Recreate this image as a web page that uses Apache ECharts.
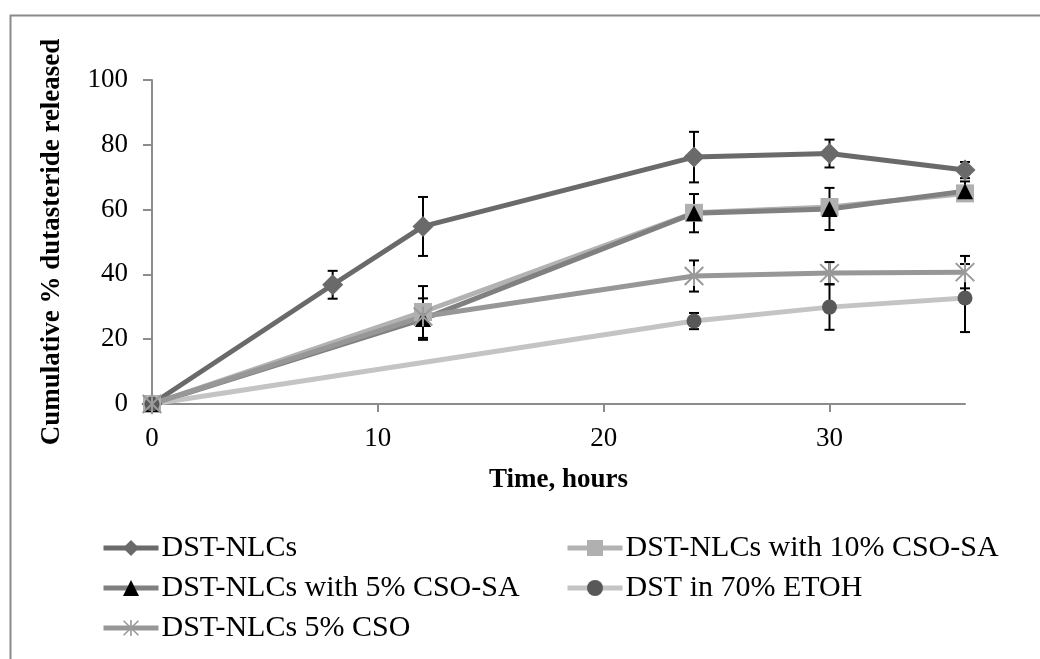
<!DOCTYPE html>
<html>
<head>
<meta charset="utf-8">
<script src="https://cdn.jsdelivr.net/npm/echarts@6/dist/echarts.min.js"></script>
<style>html,body{margin:0;padding:0;background:#fff;}#c{width:1040px;height:659px;}</style>
</head>
<body>
<div id="c"></div>
<script>
// ---- data ----
var seriesNames = ['DST-NLCs', 'DST-NLCs with 10% CSO-SA', 'DST-NLCs with 5% CSO-SA', 'DST in 70% ETOH', 'DST-NLCs 5% CSO'];
var tNLC = [0, 8, 12, 24, 30, 36];
var vNLC = [0, 36.8, 54.8, 76.2, 77.3, 72.2];
var sNLC = [0, 4.3, 9.1, 7.8, 4.3, 2.5];
var t10 = [0, 12, 24, 30, 36];
var v10 = [0, 28.4, 59.0, 60.8, 65.0];
var s10 = [0, 8.0, 0, 0, 0];
var t5 = [0, 12, 24, 30, 36];
var v5 = [0, 26.2, 58.9, 60.2, 65.7];
var s5 = [0, 6.4, 5.9, 6.5, 3.0];
var tEt = [0, 24, 30, 36];
var vEt = [0, 25.6, 29.9, 32.7];
var sEt = [0, 2.5, 7.0, 10.5];
var tCso = [0, 12, 24, 30, 36];
var vCso = [0, 27.0, 39.5, 40.4, 40.7];
var sCso = [0, 0, 4.8, 3.4, 5.0];
var xTicks = [0, 10, 20, 30];

function pairs(t, v) { return t.map(function (x, i) { return [x, v[i]]; }); }
function errs(t, v, s) {
  var out = [];
  t.forEach(function (x, i) { if (s[i] > 0) out.push([x, v[i] - s[i], v[i] + s[i]]); });
  return out;
}
var errData = [].concat(errs(tNLC, vNLC, sNLC), errs(t10, v10, s10), errs(t5, v5, s5), errs(tEt, vEt, sEt), errs(tCso, vCso, sCso));

var asterisk = 'path://M-1,-10L1,-10L1,10L-1,10Z' +
  'M-8.3,-9.7L9.7,8.3L8.3,9.7L-9.7,-8.3Z' +
  'M-9.7,8.3L8.3,-9.7L9.7,-8.3L-8.3,9.7Z';

var font = 'Liberation Serif';
var chart = echarts.init(document.getElementById('c'), null, { renderer: 'canvas' });

function lineSeries(name, data, color, symbol, size, symColor, z) {
  return {
    name: name, type: 'line', data: data, z: z,
    symbol: symbol, symbolSize: size, showAllSymbol: true,
    lineStyle: { color: color, width: 5 },
    itemStyle: { color: symColor, borderWidth: 0 },
    emphasis: { disabled: true },
    animation: false
  };
}

var legendCommon = {
  orient: 'vertical', top: 528, itemWidth: 55, itemHeight: 20, itemGap: 10,
  textStyle: { fontFamily: font, fontSize: 30, color: '#000', padding: [0, 0, 0, -2] },
  lineStyle: { width: 5 },
  selectedMode: false
};

chart.setOption({
  backgroundColor: '#fff',
  animation: false,
  graphic: [{
    type: 'rect', left: 8, top: 13, shape: { x: 0, y: 0, width: 1100, height: 700 },
    style: { fill: 'none', stroke: '#8a8a8a', lineWidth: 2 }, silent: true, z: -10
  }],
  grid: { left: 152, right: 75, top: 80, bottom: 255 },
  xAxis: {
    type: 'value', min: 0, max: 36, interval: 10,
    name: 'Time, hours', nameLocation: 'middle', nameGap: 63,
    nameTextStyle: { fontFamily: font, fontSize: 27, fontWeight: 'bold', color: '#000' },
    axisLine: { show: true, lineStyle: { color: '#8c8c8c', width: 2 } },
    axisTick: { show: true, length: 8, inside: false, lineStyle: { color: '#8c8c8c', width: 2 }, customValues: xTicks },
    axisLabel: { fontFamily: font, fontSize: 27, color: '#000', margin: 21, customValues: xTicks },
    splitLine: { show: false }
  },
  yAxis: {
    type: 'value', min: 0, max: 100, interval: 20,
    name: 'Cumulative % dutasteride released', nameLocation: 'middle', nameGap: 86,
    nameTextStyle: { fontFamily: font, fontSize: 27, fontWeight: 'bold', color: '#000' },
    axisLine: { show: true, lineStyle: { color: '#8c8c8c', width: 2 } },
    axisTick: { show: true, length: 9, lineStyle: { color: '#8c8c8c', width: 2 } },
    axisLabel: { fontFamily: font, fontSize: 27, color: '#000', margin: 24 },
    splitLine: { show: false }
  },
  legend: [
    Object.assign({}, legendCommon, { left: 96, data: [seriesNames[0], seriesNames[2], seriesNames[4]] }),
    Object.assign({}, legendCommon, { left: 560, data: [seriesNames[1], seriesNames[3]] })
  ],
  series: [
    {
      type: 'custom', name: 'err', z: 1, data: errData, silent: true, animation: false,
      renderItem: function (params, api) {
        var x = api.value(0), lo = api.value(1), hi = api.value(2);
        var p1 = api.coord([x, hi]), p2 = api.coord([x, lo]);
        var w = 5, st = { stroke: '#000', lineWidth: 2 };
        return {
          type: 'group', children: [
            { type: 'line', shape: { x1: p1[0], y1: p1[1], x2: p2[0], y2: p2[1] }, style: st },
            { type: 'line', shape: { x1: p1[0] - w, y1: p1[1], x2: p1[0] + w, y2: p1[1] }, style: st },
            { type: 'line', shape: { x1: p2[0] - w, y1: p2[1], x2: p2[0] + w, y2: p2[1] }, style: st }
          ]
        };
      }
    },
    lineSeries(seriesNames[0], pairs(tNLC, vNLC), '#6a6a6a', 'diamond', 21, '#6a6a6a', 3),
    lineSeries(seriesNames[1], pairs(t10, v10), '#b2b2b2', 'rect', 18, '#b0b0b0', 3),
    lineSeries(seriesNames[2], pairs(t5, v5), '#808080', 'triangle', 16, '#000000', 3),
    lineSeries(seriesNames[3], pairs(tEt, vEt), '#c4c4c4', 'circle', 15, '#585858', 3),
    lineSeries(seriesNames[4], pairs(tCso, vCso), '#979797', asterisk, 20, '#9a9a9a', 3)
  ]
});
</script>
</body>
</html>
